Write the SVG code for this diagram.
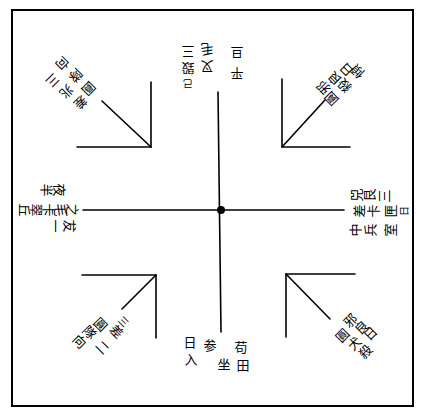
<svg xmlns="http://www.w3.org/2000/svg" width="422" height="416" viewBox="0 0 422 416">
<style>
.ln{stroke:#000;stroke-width:1.6;fill:none;stroke-linecap:round}
.fr{stroke:#000;stroke-width:2;fill:none}
text{font-family:"Noto Sans CJK SC","Noto Sans CJK JP",sans-serif;font-size:13px;fill:#000;text-anchor:middle;dominant-baseline:central}
.s{font-size:10px}
</style>
<rect width="422" height="416" fill="#fff"/>
<rect class="fr" x="12" y="10" width="401" height="396"/>
<g id="connectors">
<line class="ln" x1="218" y1="92" x2="221" y2="332"/>
<line class="ln" x1="83" y1="210" x2="344" y2="210"/>
</g>
<g id="center"><circle cx="221" cy="210" r="4" fill="#000"/></g>
<g id="corner-tl">
<polyline class="ln" points="151,82 151,147 77,147"/>
<line class="ln" x1="151" y1="147" x2="102" y2="101"/>
</g>
<g id="corner-tr">
<polyline class="ln" points="282,79 282,147 350,147"/>
<line class="ln" x1="282" y1="147" x2="325" y2="100"/>
</g>
<g id="corner-bl">
<polyline class="ln" points="82,275 156,275 156,338"/>
<line class="ln" x1="156" y1="275" x2="122" y2="309"/>
</g>
<g id="corner-br">
<polyline class="ln" points="355,274 286,274 286,337"/>
<line class="ln" x1="286" y1="274" x2="330" y2="319"/>
</g>
<g id="text-top">
<text x="237" y="53" transform="rotate(180 237 53)">旦</text>
<text x="237" y="74" transform="rotate(180 237 74)">平</text>
<text x="207" y="50" transform="rotate(180 207 50)">毛</text>
<text x="207" y="67" transform="rotate(180 207 67)">叉</text>
<text x="188" y="52" transform="rotate(180 188 52)">三</text>
<text x="188" y="69" transform="rotate(180 188 69)">毀</text>
<text class="s" x="188" y="84" transform="rotate(180 188 84)">己</text>
</g>
<g id="text-tl">
<text x="89" y="89" transform="rotate(135 89 89)">圓</text>
<text x="76" y="76" transform="rotate(135 76 76)">隊</text>
<text x="63" y="64" transform="rotate(135 63 64)">向</text>
<text x="81" y="103" transform="rotate(135 81 103)">差</text>
<text x="67" y="92" transform="rotate(135 67 92)">兆</text>
<text x="53" y="81" transform="rotate(135 53 81)">三</text>
</g>
<g id="text-tr">
<text x="323" y="88" transform="rotate(225 323 88)">邪</text>
<text x="334" y="79" transform="rotate(225 334 79)">良</text>
<text x="346" y="70" transform="rotate(225 346 70)">日</text>
<text x="331" y="99" transform="rotate(225 331 99)">圓</text>
<text x="344" y="86" transform="rotate(225 344 86)">殺</text>
<text x="357" y="72" transform="rotate(225 357 72)">傾</text>
</g>
<g id="text-left">
<text x="60" y="190" transform="rotate(90 60 190)">夜</text>
<text x="47" y="190" transform="rotate(90 47 190)">半</text>
<text x="73" y="210" transform="rotate(90 73 210)">之</text>
<text x="61" y="210" transform="rotate(90 61 210)">毛</text>
<text x="49" y="210" transform="rotate(90 49 210)">卡</text>
<text x="37" y="210" transform="rotate(90 37 210)">翠</text>
<text x="25" y="210" transform="rotate(90 25 210)">丘</text>
<text x="70" y="226" transform="rotate(90 70 226)">犮</text>
<text x="56" y="226" transform="rotate(90 56 226)">一</text>
</g>
<g id="text-right">
<text x="355" y="195" transform="rotate(270 355 195)">兕</text>
<text x="368" y="195" transform="rotate(270 368 195)">艮</text>
<text x="383" y="196" transform="rotate(270 383 196)">三</text>
<text x="358" y="211" transform="rotate(270 358 211)">差</text>
<text x="372" y="211" transform="rotate(270 372 211)">卡</text>
<text x="389" y="211" transform="rotate(270 389 211)">匣</text>
<text class="s" x="403" y="211" transform="rotate(270 403 211)">日</text>
<text x="354" y="230" transform="rotate(270 354 230)">中</text>
<text x="369" y="230" transform="rotate(270 369 230)">兵</text>
<text x="389" y="230" transform="rotate(270 389 230)">室</text>
</g>
<g id="text-bl">
<text x="80" y="341" transform="rotate(45 80 341)">向</text>
<text x="90" y="332" transform="rotate(45 90 332)">隊</text>
<text x="101" y="324" transform="rotate(45 101 324)">圓</text>
<text x="103" y="347" transform="rotate(45 103 347)">二</text>
<text x="117" y="331" transform="rotate(45 117 331)">差</text>
<text class="s" x="124" y="321" transform="rotate(45 124 321)">三</text>
</g>
<g id="text-bottom">
<text x="190" y="341">日</text>
<text x="191" y="358">入</text>
<text x="210" y="344">参</text>
<text x="241" y="346">苟</text>
<text x="224" y="363">坐</text>
<text x="243" y="364">田</text>
</g>
<g id="text-br">
<text x="350" y="320" transform="rotate(315 350 320)">邪</text>
<text x="361" y="327" transform="rotate(315 361 327)">良</text>
<text x="370" y="333" transform="rotate(315 370 333)">日</text>
<text x="342" y="335" transform="rotate(315 342 335)">圓</text>
<text x="354" y="343" transform="rotate(315 354 343)">犬</text>
<text x="365" y="351" transform="rotate(315 365 351)">殺</text>
</g>
</svg>
